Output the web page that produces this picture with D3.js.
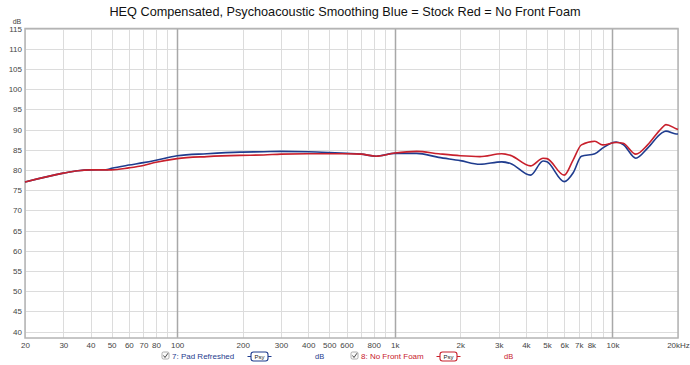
<!DOCTYPE html>
<html><head><meta charset="utf-8">
<script src="https://cdn.jsdelivr.net/npm/d3@7"></script>
<style>
body{margin:0;background:#fff;}
svg{display:block;font-family:"Liberation Sans",Arial,sans-serif;}
</style></head>
<body><svg id="c" width="690" height="365"></svg>
<script>
const title = "HEQ Compensated, Psychoacoustic Smoothing Blue = Stock Red = No Front Foam";
const freqs = [20,30,35,40,47,50,60,70,80,100,137,194,250,300,400,500,600,700,820,1000,1260,1590,2000,2460,3100,3400,4200,4800,5000,6000,6600,7200,8300,9000,10400,11200,12800,14500,16800,17600,19600,20000];
const blueVals = [77.0,79.2,79.8,80.0,80.05,80.4,81.2,81.8,82.4,83.5,84.0,84.4,84.5,84.6,84.5,84.3,84.1,83.9,83.4,84.1,84.1,83.1,82.3,81.4,82.0,81.6,78.7,82.2,82.0,77.1,79.3,83.4,84.0,85.4,86.9,86.3,82.9,85.4,89.1,89.6,88.9,88.9];
const redVals  = [77.0,79.2,79.8,80.0,80.0,80.0,80.5,81.1,81.9,82.8,83.3,83.6,83.7,83.9,84.0,84.0,84.0,83.9,83.4,84.2,84.6,84.0,83.5,83.3,84.0,83.6,81.0,82.9,82.8,78.7,82.5,86.2,87.1,86.2,86.8,86.6,83.9,86.2,90.3,91.2,90.2,90.0];
const yTicks = [40,45,50,55,60,65,70,75,80,85,90,95,100,105,110,115];
const xGrid = [20,30,40,50,60,70,80,90,100,200,300,400,500,600,700,800,900,1000,2000,3000,4000,5000,6000,7000,8000,9000,10000,20000];
const xMajor = [100,1000,10000];
const xTickVals = [20,30,40,50,60,70,80,100,200,300,400,500,600,800,1000,2000,3000,4000,5000,6000,7000,8000,10000,20000];
const xTickLabels = ["20","30","40","50","60","70","80","100","200","300","400","500","600","800","1k","2k","3k","4k","5k","6k","7k","8k","10k","20kHz"];
const seriesNames = ["7: Pad Refreshed","8: No Front Foam"];
const seriesColors = ["#1f3c8e","#c8202c"];

const svg = d3.select("#c");
const L=25,R=678,T=28.5,B=338;
const x = d3.scaleLog().domain([20,20000]).range([L,R]);
const y = d3.scaleLinear().domain([38.4,115]).range([B,T]);

// title
svg.append("text").attr("x",345).attr("y",16).attr("text-anchor","middle")
  .attr("font-size",12.7).attr("fill","#111").text(title);

// grid
const g = svg.append("g");
g.selectAll(".hg").data(yTicks).join("line")
  .attr("x1",L).attr("x2",R).attr("y1",d=>Math.round(y(d))+0.5).attr("y2",d=>Math.round(y(d))+0.5)
  .attr("stroke","#dcdcdc").attr("stroke-width",1);
g.selectAll(".vg").data(xGrid).join("line")
  .attr("x1",d=>Math.round(x(d))+0.5).attr("x2",d=>Math.round(x(d))+0.5).attr("y1",T).attr("y2",B)
  .attr("stroke",d=>xMajor.includes(d)?"#a8a8a8":"#dcdcdc").attr("stroke-width",d=>xMajor.includes(d)?1.5:1);

// border
svg.append("rect").attr("x",L).attr("y",T).attr("width",R-L).attr("height",B-T)
  .attr("fill","none").attr("stroke","#b4b4b4").attr("stroke-width",1.5);

// y labels
const ya = d3.axisLeft(y).tickValues(yTicks).tickSize(0).tickPadding(3);
const yg = svg.append("g").attr("transform",`translate(${L},0)`).call(ya);
yg.select(".domain").remove();
yg.selectAll("text").attr("font-size",8).attr("fill","#444").attr("font-family","Liberation Sans,Arial,sans-serif");
svg.append("text").attr("x",17).attr("y",24).attr("text-anchor","middle").attr("font-size",7).attr("fill","#444").text("dB");

// x labels
const xa = d3.axisBottom(x).tickValues(xTickVals).tickSize(0).tickPadding(4)
  .tickFormat((d,i)=>xTickLabels[i]);
const xg = svg.append("g").attr("transform",`translate(0,${B})`).call(xa);
xg.select(".domain").remove();
xg.selectAll("text").attr("font-size",8).attr("fill","#444").attr("font-family","Liberation Sans,Arial,sans-serif");

// lines
const line = d3.line().x(d=>x(d[0])).y(d=>y(d[1])).curve(d3.curveMonotoneX);
const blueData = freqs.map((f,i)=>[f,blueVals[i]]);
const redData = freqs.map((f,i)=>[f,redVals[i]]);
svg.append("path").datum(blueData).attr("d",line).attr("fill","none").attr("stroke",seriesColors[0]).attr("stroke-width",1.6);
svg.append("path").datum(redData).attr("d",line).attr("fill","none").attr("stroke",seriesColors[1]).attr("stroke-width",1.6);

// legend
const lx = [162,351];
seriesNames.forEach((nm,i)=>{
  const lg = svg.append("g").attr("transform",`translate(${lx[i]},0)`);
  const c = seriesColors[i];
  lg.append("rect").attr("x",0).attr("y",352).attr("width",7).attr("height",7).attr("rx",1.5)
    .attr("fill","#fafafa").attr("stroke","#999").attr("stroke-width",0.8);
  lg.append("path").attr("d","M1.5,355.5 L3,357.5 L6,353.2").attr("fill","none").attr("stroke","#333").attr("stroke-width",0.9);
  lg.append("text").attr("x",10).attr("y",358.5).attr("font-size",8).attr("fill",c).text(nm);
  lg.append("rect").attr("x",89).attr("y",352).attr("width",17).attr("height",9).attr("rx",2.5)
    .attr("fill","#fff").attr("stroke",c).attr("stroke-width",1.1);
  lg.append("line").attr("x1",85.5).attr("x2",89).attr("y1",356.5).attr("y2",356.5).attr("stroke",c).attr("stroke-width",1);
  lg.append("line").attr("x1",106).attr("x2",109.5).attr("y1",356.5).attr("y2",356.5).attr("stroke",c).attr("stroke-width",1);
  lg.append("text").attr("x",97.5).attr("y",359).attr("text-anchor","middle").attr("font-size",6).attr("fill","#222").text("Psy");
  lg.append("text").attr("x",153).attr("y",358.5).attr("font-size",7.5).attr("fill",c).text("dB");
});
</script></body></html>
